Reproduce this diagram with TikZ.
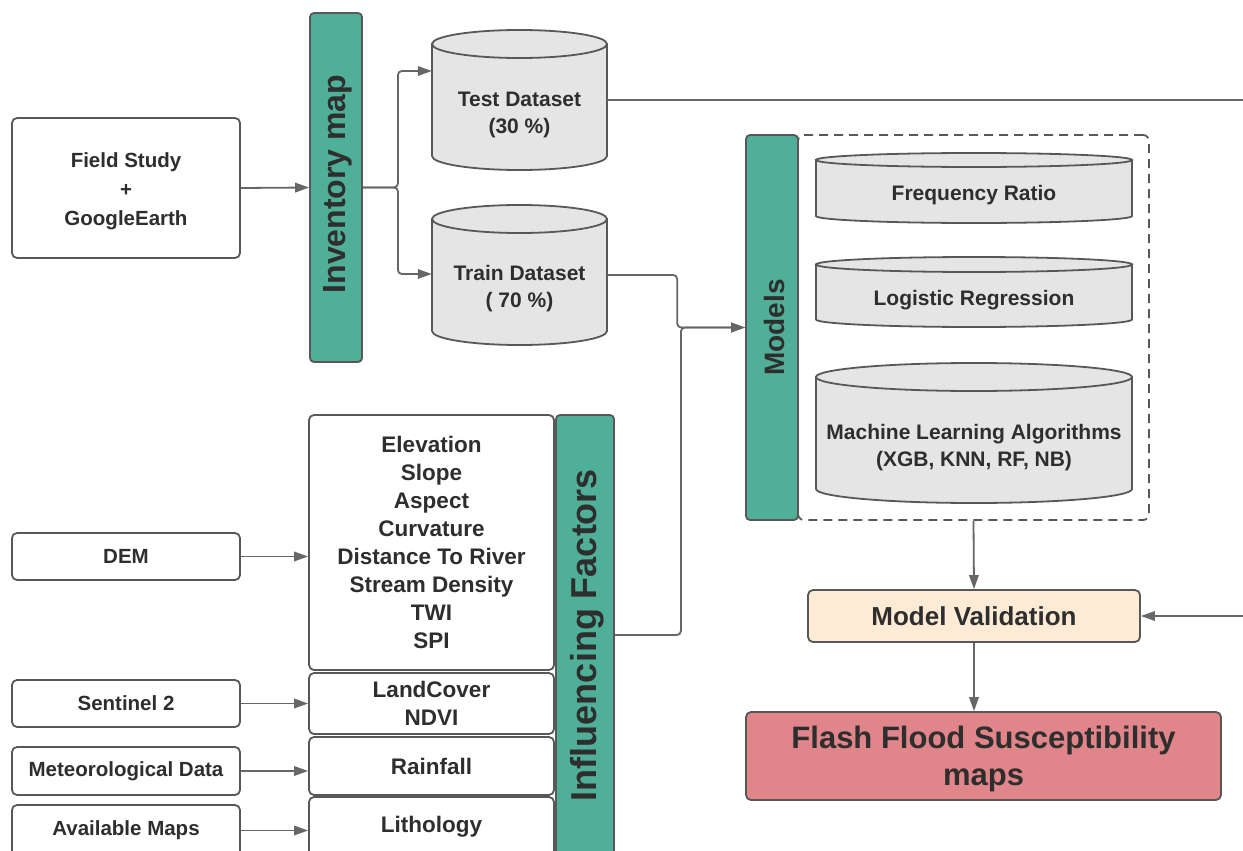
\documentclass[tikz,border=0pt]{standalone}
\usepackage{fontspec}
\setmainfont{Liberation Sans}
\usetikzlibrary{arrows.meta}

\definecolor{ink}{HTML}{2E2E2E}
\definecolor{edge}{HTML}{585858}
\definecolor{wire}{HTML}{666666}
\definecolor{tealbar}{HTML}{50AF98}
\definecolor{drumgray}{HTML}{E5E5E5}
\definecolor{peach}{HTML}{FDEBD6}
\definecolor{rose}{HTML}{E0868A}

\newcommand{\fsz}[2]{\bfseries\fontsize{#1}{#2}\selectfont}

% vertical drum: left x, right x, top-end centre y, bottom-end centre y, end radius
\newcommand{\drum}[5]{%
  \pgfmathsetmacro\drumrx{(#2-#1)/2}%
  \pgfmathsetmacro\drumcx{(#2+#1)/2}%
  \path[drumline] (#1,#3) -- (#1,#4)
     arc[start angle=180,end angle=360,x radius=\drumrx,y radius=#5]
     -- (#2,#3) -- cycle;
  \path[drumline] (\drumcx,#3) ellipse[x radius=\drumrx,y radius=#5];
}

\tikzset{
  box/.style={draw=edge, line width=1.8pt, rounded corners=5pt, fill=white,
    text=ink, align=center, inner sep=0pt, font=\fsz{20.5}{28.5}},
  bar/.style={draw=edge, line width=1.8pt, rounded corners=4pt, fill=tealbar, inner sep=0pt},
  bartext/.style={rotate=90, text=ink, inner sep=0pt},
  drumline/.style={draw=edge, line width=1.8pt, fill=drumgray},
  drumtext/.style={text=ink, align=center, inner sep=0pt, font=\fsz{21}{27}},
  frame/.style={draw=edge, line width=1.8pt, dash pattern=on 9pt off 6pt, rounded corners=6pt},
  link/.style={draw=wire, line width=1.8pt, rounded corners=4pt},
  arr/.style={link, -{Triangle[length=14pt,width=9.5pt]}},
}

\begin{document}
\begin{tikzpicture}[x=1pt,y=1pt]
\useasboundingbox (0,0) rectangle (1243,-851);
\clip (0,0) rectangle (1243,-851);
\fill[white] (0,0) rectangle (1243,-851);

% ---- inventory branch ----
\node[box, minimum width=228, minimum height=140] (field) at (126,-188) {};
\node[text=ink, align=center, inner sep=0pt, font=\fsz{20.5}{29}] (fieldtext) at (126,-191)
  {Field Study\\+\\GoogleEarth};
\node[bar, minimum width=52, minimum height=349] (inv) at (336,-187.5) {};
\node[bartext, font=\fsz{32}{36}] (invlabel) at (338,-184) {Inventory map};

\drum{432}{607}{-44}{-156}{14}
\node[drumtext, minimum width=175] (test) at (519.5,-115) {Test Dataset\\(30 \%)};
\drum{432}{607}{-219}{-331}{14}
\node[drumtext, minimum width=175] (train) at (519.5,-289) {Train Dataset\\( 70 \%)};

% ---- models ----
\node[frame, minimum width=351, minimum height=385] (mbox) at (973.5,-327.5) {};
\node[bar, minimum width=52, minimum height=385] (models) at (772,-327.5) {};
\node[bartext, font=\fsz{28}{32}] (modlabel) at (774,-327.5) {Models};

\drum{816}{1132}{-160}{-216}{7}
\node[drumtext, minimum width=316] (fr) at (974,-195) {Frequency Ratio};
\drum{816}{1132}{-264.5}{-319.5}{7.5}
\node[drumtext, minimum width=316] (lr) at (974,-300) {Logistic Regression};
\drum{816}{1132}{-377}{-489}{14}
\node[drumtext, minimum width=316] (ml) at (974,-447.5)
  {Machine Learning Algorithms\\(XGB, KNN, RF, NB)};

% ---- validation and output ----
\node[box, fill=peach, minimum width=332, minimum height=52, font=\fsz{26}{30}] (mv)
  at (974,-616) {Model Validation};
\node[box, fill=rose, minimum width=475, minimum height=88] (flash) at (983.5,-756) {};
\node[text=ink, align=center, inner sep=0pt, font=\fsz{31}{37}] (flashtext) at (983.5,-759)
  {Flash Flood Susceptibility\\maps};

% ---- data sources ----
\node[box, minimum width=228, minimum height=47] (dem) at (126,-556.5) {DEM};
\node[box, minimum width=228, minimum height=47] (sent) at (126,-703.5) {Sentinel 2};
\node[box, minimum width=228, minimum height=48] (meteo) at (126,-771) {Meteorological Data};
\node[box, minimum width=228, minimum height=51] (avail) at (126,-830.5) {Available Maps};

% ---- influencing factors ----
\node[box, minimum width=245, minimum height=255, font=\fsz{22.5}{28}] (elev) at (431.5,-542.5)
  {Elevation\\Slope\\Aspect\\Curvature\\Distance To River\\Stream Density\\TWI\\SPI};
\node[box, minimum width=245, minimum height=61, font=\fsz{22.5}{28}] (land) at (431.5,-703.5)
  {LandCover\\NDVI};
\node[box, minimum width=245, minimum height=58, font=\fsz{22.5}{28}] (rain) at (431.5,-766)
  {Rainfall};
\node[box, minimum width=245, minimum height=59, font=\fsz{22.5}{28}] (lith) at (431.5,-826.5)
  {Lithology};
\node[bar, minimum width=58, minimum height=440] (inf) at (585,-635) {};
\node[bartext, font=\fsz{36}{40}] (inflabel) at (587,-635) {Influencing Factors};

% ---- connectors ----
\draw[arr] (field.east) -- (inv.west);
\draw[arr] (inv.east) -- ++(35,0) |- ([yshift=44pt]test.west);
\draw[arr] (inv.east) -- ++(35,0) |- ([yshift=15pt]train.west);
\draw[arr] ([yshift=14pt]train.east) -- ++(70,0) |- (models.west);
\draw[arr] (inf.east) -- ++(66,0) |- (models.west);

\coordinate (offr) at (1262,-100);
\draw[arr] ([yshift=15pt]test.east) -- (offr) |- (mv.east);
\draw[arr] (mbox.south) -- (mv.north);
\draw[arr] (mv.south) -- (mv.south |- flash.north);

\draw[arr] (dem.east) -- (dem.east -| elev.west);
\draw[arr] (sent.east) -- (sent.east -| land.west);
\draw[arr] (meteo.east) -- (meteo.east -| rain.west);
\draw[arr] (avail.east) -- (avail.east -| lith.west);
\end{tikzpicture}
\end{document}
